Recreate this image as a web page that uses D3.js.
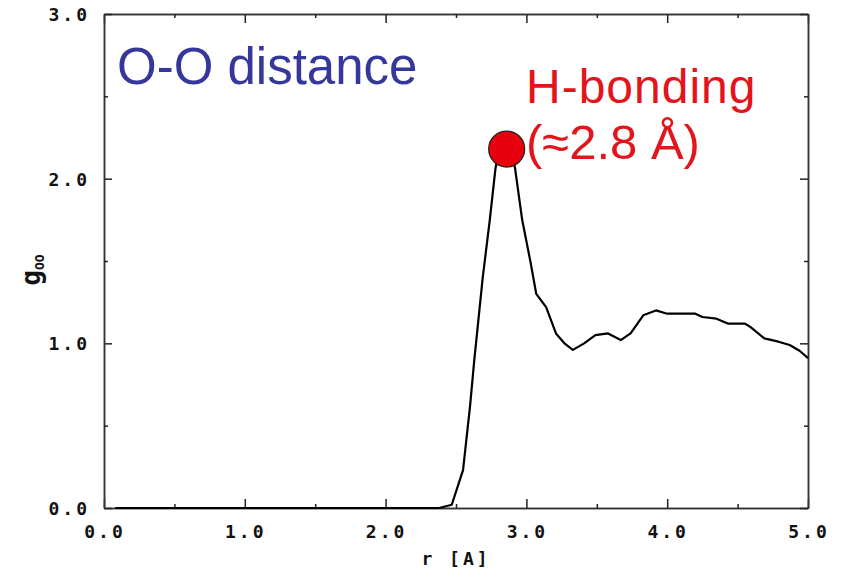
<!DOCTYPE html>
<html>
<head>
<meta charset="utf-8">
<script src="https://cdn.jsdelivr.net/npm/d3@7"></script>
<style>
  body { margin: 0; background: #fff; }
  .tick-label { font-family: "DejaVu Sans Mono", monospace; font-weight: bold; font-size: 18px; letter-spacing: 3px; fill: #111; }
</style>
</head>
<body>
<div id="chart"></div>
<script>
// O-O radial distribution function
const rValues = [0.08, 2.38, 2.47, 2.55, 2.6, 2.63, 2.69, 2.74, 2.78, 2.81, 2.89, 2.92, 2.97, 3.03, 3.07,
                 3.14, 3.21, 3.27, 3.33, 3.41, 3.49, 3.58, 3.67, 3.74, 3.83, 3.92, 4.0, 4.2, 4.25,
                 4.35, 4.43, 4.55, 4.59, 4.69, 4.79, 4.87, 4.94, 5.0];
const gValues = [0, 0, 0.02, 0.23, 0.62, 0.9, 1.4, 1.75, 2.06, 2.2, 2.19, 2.06, 1.75, 1.49, 1.3,
                 1.22, 1.06, 1.0, 0.96, 1.0, 1.05, 1.06, 1.02, 1.06, 1.17, 1.2, 1.18, 1.18, 1.16,
                 1.15, 1.12, 1.12, 1.1, 1.03, 1.01, 0.99, 0.955, 0.91];
const xMajor = [0, 1, 2, 3, 4, 5];
const xMinor = [0.5, 1.5, 2.5, 3.5, 4.5];
const yMajor = [0, 1, 2, 3];
const yMinor = [0.5, 1.5, 2.5];
const peak = {r: 2.86, g: 2.18};

const width = 844, height = 576;
const svg = d3.select("#chart").append("svg")
    .attr("width", width)
    .attr("height", height);

let x = d3.scaleLinear().domain([0, 5]).range([104, 808]);
let y = d3.scaleLinear().domain([0, 3]).range([508, 14]);

function styleAxis(g) {
    g.select(".domain").attr("stroke", "#333").attr("stroke-width", 1.5);
    g.selectAll(".tick line").attr("stroke", "#222").attr("stroke-width", 1.5);
}

// frame with inward ticks on all four sides
svg.append("g").attr("transform", `translate(0,${y(0)})`)
    .call(d3.axisBottom(x).tickValues(xMajor).tickSizeInner(-9).tickSizeOuter(0).tickFormat(""))
    .call(styleAxis);
svg.append("g").attr("transform", `translate(0,${y(0)})`)
    .call(d3.axisBottom(x).tickValues(xMinor).tickSizeInner(-4).tickSizeOuter(0).tickFormat(""))
    .call(styleAxis);
svg.append("g").attr("transform", `translate(0,${y(3)})`)
    .call(d3.axisTop(x).tickValues(xMajor).tickSizeInner(-9).tickSizeOuter(0).tickFormat(""))
    .call(styleAxis);
svg.append("g").attr("transform", `translate(0,${y(3)})`)
    .call(d3.axisTop(x).tickValues(xMinor).tickSizeInner(-4).tickSizeOuter(0).tickFormat(""))
    .call(styleAxis);
svg.append("g").attr("transform", `translate(${x(0)},0)`)
    .call(d3.axisLeft(y).tickValues(yMajor).tickSizeInner(-8).tickSizeOuter(0).tickFormat(""))
    .call(styleAxis);
svg.append("g").attr("transform", `translate(${x(0)},0)`)
    .call(d3.axisLeft(y).tickValues(yMinor).tickSizeInner(-4).tickSizeOuter(0).tickFormat(""))
    .call(styleAxis);
svg.append("g").attr("transform", `translate(${x(5)},0)`)
    .call(d3.axisRight(y).tickValues(yMajor).tickSizeInner(-8).tickSizeOuter(0).tickFormat(""))
    .call(styleAxis);
svg.append("g").attr("transform", `translate(${x(5)},0)`)
    .call(d3.axisRight(y).tickValues(yMinor).tickSizeInner(-4).tickSizeOuter(0).tickFormat(""))
    .call(styleAxis);

// tick labels
svg.selectAll(".xlab").data(xMajor).join("text")
    .attr("class", "tick-label")
    .attr("x", d => x(d) + 1)
    .attr("y", 538)
    .attr("text-anchor", "middle")
    .text(d => d3.format(".1f")(d));

svg.selectAll(".ylab").data(yMajor).join("text")
    .attr("class", "tick-label")
    .attr("x", 90)
    .attr("y", d => y(d) + 7)
    .attr("text-anchor", "end")
    .text(d => d3.format(".1f")(d));

// axis titles
svg.append("text")
    .attr("class", "tick-label")
    .attr("x", 456)
    .attr("y", 565)
    .attr("text-anchor", "middle")
    .text("r [A]");

let ylab = svg.append("text")
    .attr("transform", "translate(40,270) rotate(-90)")
    .attr("text-anchor", "middle")
    .style("font-family", "DejaVu Sans Mono, monospace")
    .style("font-weight", "bold")
    .style("fill", "#111");
ylab.append("tspan").style("font-size", "26px").text("g");
ylab.append("tspan").style("font-size", "13px").attr("dy", 4).text("OO");

// curve
let line = d3.line()
    .x(d => x(d[0]))
    .y(d => y(d[1]));

svg.append("path")
    .datum(d3.zip(rValues, gValues))
    .attr("fill", "none")
    .attr("stroke", "#000")
    .attr("stroke-width", 2.2)
    .attr("stroke-linejoin", "round")
    .attr("d", line);

// peak marker
svg.append("circle")
    .attr("cx", x(peak.r))
    .attr("cy", y(peak.g))
    .attr("r", 18)
    .attr("fill", "#e8000f")
    .attr("stroke", "#222")
    .attr("stroke-width", 1.2);

// annotations
svg.append("text")
    .attr("x", 117)
    .attr("y", 84)
    .style("font-family", "Liberation Sans, Arial, sans-serif")
    .style("font-size", "51px")
    .style("fill", "#36379a")
    .text("O-O distance");

svg.append("text")
    .attr("x", 526)
    .attr("y", 103)
    .style("font-family", "Liberation Sans, Arial, sans-serif")
    .style("font-size", "48px")
    .style("letter-spacing", "1px")
    .style("fill", "#e3141b")
    .text("H-bonding");

svg.append("text")
    .attr("x", 526)
    .attr("y", 159)
    .style("font-family", "Liberation Sans, Arial, sans-serif")
    .style("font-size", "49px")
    .style("fill", "#e3141b")
    .text("(≈2.8 Å)");
</script>
</body>
</html>
